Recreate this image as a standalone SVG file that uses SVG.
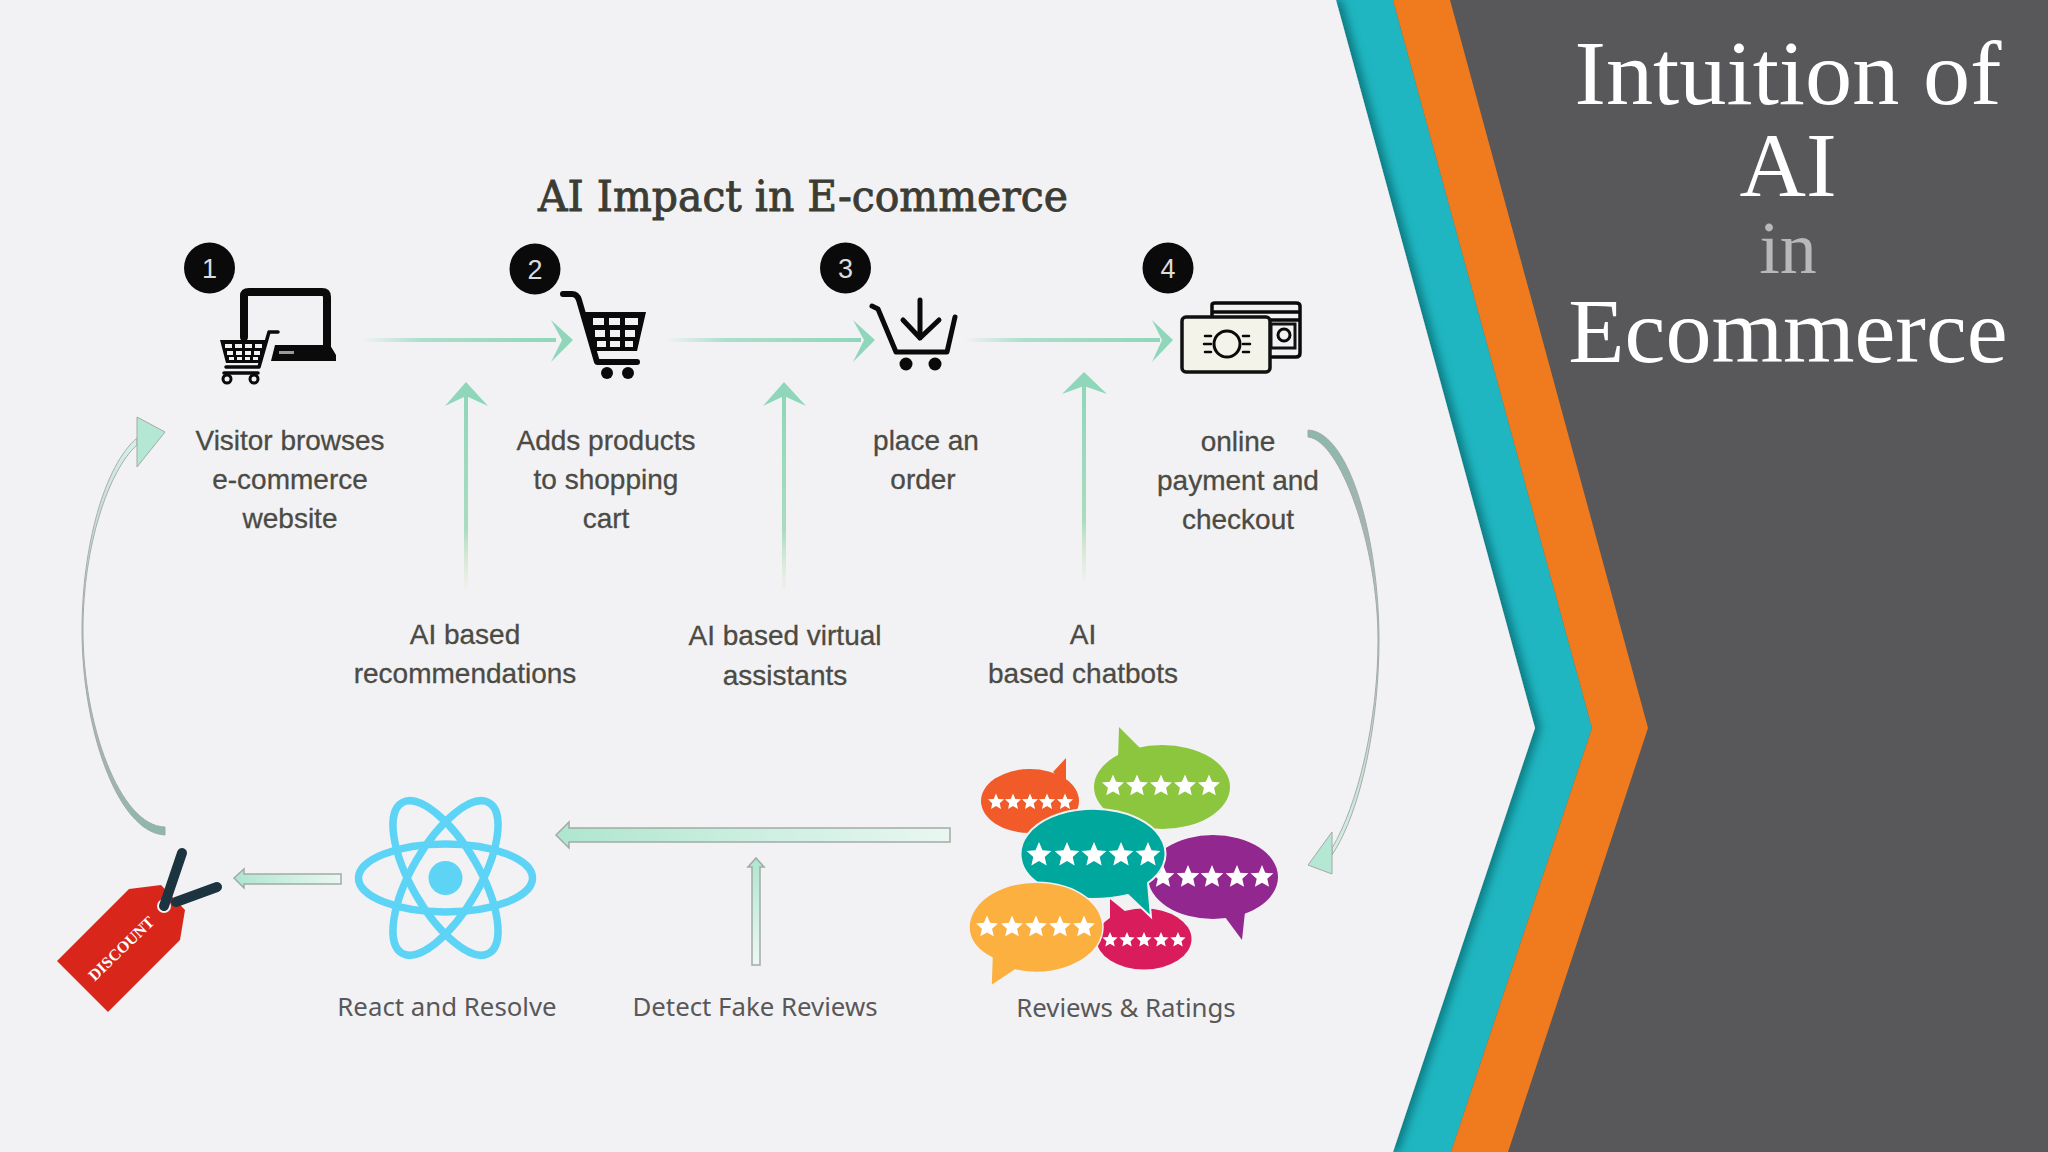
<svg xmlns="http://www.w3.org/2000/svg" width="2048" height="1152" viewBox="0 0 2048 1152">
<style>
.t{font-family:"Liberation Sans",Arial,sans-serif;font-size:28px;fill:#4b4b44;text-anchor:middle;stroke:#4b4b44;stroke-width:.3}
.n{font-family:"Noto Sans","Open Sans",sans-serif;font-size:25.800px;fill:#58585a;text-anchor:middle}
.h{font-family:"Liberation Serif",serif;font-size:92px;fill:#fff;text-anchor:middle}
.d{font-family:"Liberation Sans",Arial,sans-serif;font-size:27px;fill:#dcdcdc;text-anchor:middle}
.g{fill:#8fd6ba}
.o{fill:none;stroke:#0a0a0a;stroke-linecap:round;stroke-linejoin:round}
.star{fill:#fff}
.blk{fill:#0a0a0a}
.cell{fill:#f2f2f4}
.bx{stroke:#a2aaa6;stroke-width:1.5}
</style>
<defs>
<polygon id="star" points="0,-1 .27,-.36 .95,-.31 .44,.15 .59,.81 0,.47 -.59,.81 -.44,.15 -.95,-.31 -.27,-.36"/>
<filter id="shadow" x="-10%" y="-5%" width="120%" height="110%"><feDropShadow dx="6" dy="0" stdDeviation="4" flood-color="#04545c" flood-opacity=".6"/></filter>
<linearGradient id="fadeR" gradientUnits="objectBoundingBox" x1="0" y1="0" x2="1" y2="0"><stop offset="0" stop-color="#8fd6ba" stop-opacity="0"/><stop offset=".3" stop-color="#8fd6ba" stop-opacity=".7"/><stop offset="1" stop-color="#8fd6ba"/></linearGradient>
<linearGradient id="fadeU" gradientUnits="objectBoundingBox" x1="0" y1="0" x2="0" y2="1"><stop offset="0" stop-color="#8fd6ba"/><stop offset=".7" stop-color="#a9dcc0"/><stop offset="1" stop-color="#dfe8c8" stop-opacity=".2"/></linearGradient>
<linearGradient id="mintL" x1="0" y1="0" x2="1" y2="0"><stop offset="0" stop-color="#aee6cf"/><stop offset="1" stop-color="#e9f7f1"/></linearGradient>
<linearGradient id="mintU" x1="0" y1="0" x2="0" y2="1"><stop offset="0" stop-color="#aee6cf"/><stop offset="1" stop-color="#eef8f4"/></linearGradient>
<linearGradient id="curveL" x1="0" y1="1" x2="0" y2="0"><stop offset="0" stop-color="#8cb8ab"/><stop offset=".25" stop-color="#a7b5b0"/><stop offset="1" stop-color="#d6f0e6"/></linearGradient>
<linearGradient id="curveR" x1="0" y1="0" x2="0" y2="1"><stop offset="0" stop-color="#8cb8ab"/><stop offset=".25" stop-color="#a7b5b0"/><stop offset="1" stop-color="#d6f0e6"/></linearGradient>
</defs>

<g id="background">
<rect width="2048" height="1152" fill="#58585a"/>
<polygon points="0,0 1393,0 1592,728 1451,1152 0,1152" fill="#1fb6c1"/>
<polygon points="1393,0 1450,0 1648,728 1508,1152 1451,1152 1592,728" fill="#f07b1f"/>
<polygon points="0,0 1336,0 1535,728 1393,1152 0,1152" fill="#f2f2f4" filter="url(#shadow)"/>
</g>

<g id="slide-title">
<text class="h" x="1788" y="103.500" textLength="427" lengthAdjust="spacingAndGlyphs">Intuition of</text>
<text class="h" x="1788" y="196">AI</text>
<text class="h" x="1788" y="273" style="font-size:74px;fill:#b8b8b8">in</text>
<text class="h" x="1788" y="361.500">Ecommerce</text>
</g>

<text id="diagram-title" x="803" y="211" text-anchor="middle" textLength="530" lengthAdjust="spacingAndGlyphs" style="font-family:'DejaVu Serif','Liberation Serif',serif;font-size:42px;fill:#3c3c34;stroke:#3c3c34;stroke-width:.9">AI Impact in E-commerce</text>

<g id="connectors">
<rect x="362" y="338" width="194" height="4" fill="url(#fadeR)"/>
<polygon class="g" points="573,340 551,320 562,340 551,362"/>
<rect x="666" y="338" width="195" height="4" fill="url(#fadeR)"/>
<polygon class="g" points="875,340 853,320 864,340 853,362"/>
<rect x="964" y="338" width="196" height="4" fill="url(#fadeR)"/>
<polygon class="g" points="1173,340 1152,320 1162,340 1152,362"/>
<rect x="464" y="392" width="4" height="196" fill="url(#fadeU)"/>
<polygon class="g" points="466,382 445,406 466,396 488,406"/>
<rect x="782" y="392" width="4" height="198" fill="url(#fadeU)"/>
<polygon class="g" points="784,382 763,406 784,396 806,406"/>
<rect x="1082" y="382" width="4" height="198" fill="url(#fadeU)"/>
<polygon class="g" points="1084,372 1062,394 1084,386 1107,394"/>
<path stroke="#a0a6a3" stroke-width=".9" fill="url(#curveL)" d="M165,835C118,833 82,730 82,630C82,545 105,465 137,438L137,445C109,470 83,545 83,630C83,725 120,826 165,827Z"/>
<polygon class="bx" style="stroke-width:1" fill="#b5e8d4" points="137,417 165,432 137,467"/>
<path stroke="#a0a6a3" stroke-width=".9" fill="url(#curveR)" d="M1308,430C1350,432 1379,540 1379,640C1379,720 1362,810 1332,855L1332,848C1358,805 1378,720 1378,640C1378,545 1340,440 1308,437Z"/>
<polygon class="bx" style="stroke-width:1" fill="#b5e8d4" points="1332,832 1308,865 1332,874"/>
<polygon class="bx" fill="url(#mintL)" points="556,835 569,822 569,828 950,828 950,842 569,842 569,848"/>
<polygon class="bx" fill="url(#mintL)" points="234,878 244,869 244,874 341,874 341,884 244,884 244,888"/>
<polygon class="bx" fill="url(#mintU)" points="756,858 764,867 760,867 760,965 752,965 752,867 748,867"/>
</g>

<g id="node-1">
<circle class="blk" cx="209.500" cy="268" r="25.500"/><text class="d" x="209.500" y="278">1</text>
<path class="o" stroke-width="8" d="M244,337V296Q244,292 249,292H322Q327,292 327,297V345"/>
<path class="blk" d="M275,345H330L336,355V361H271Z"/><rect x="279" y="351" width="15" height="3" fill="#9a9a9a"/>
<path class="o" stroke-width="3.500" d="M278,332H269L259,367H226M224,373H258"/>
<polygon class="blk" points="220,340 268,340 261,363 226,363"/>
<g class="cell"><rect x="225" y="344" width="7" height="4"/><rect x="235" y="344" width="7" height="4"/><rect x="245" y="344" width="7" height="4"/><rect x="255" y="344" width="7" height="4"/><rect x="227" y="351" width="6" height="4"/><rect x="236" y="351" width="6" height="4"/><rect x="245" y="351" width="6" height="4"/><rect x="254" y="351" width="6" height="4"/><rect x="229" y="357" width="5" height="3"/><rect x="237" y="357" width="5" height="3"/><rect x="245" y="357" width="5" height="3"/><rect x="253" y="357" width="5" height="3"/></g>
<circle class="o" stroke-width="3" cx="227" cy="379" r="4"/><circle class="o" stroke-width="3" cx="254" cy="379" r="4"/>
<text class="t" x="290" y="450" textLength="189" lengthAdjust="spacingAndGlyphs">Visitor browses</text><text class="t" x="290" y="489">e-commerce</text><text class="t" x="290" y="528">website</text>
</g>

<g id="node-2">
<circle class="blk" cx="535" cy="269" r="25.500"/><text class="d" x="535" y="279">2</text>
<path class="o" stroke-width="6" d="M563,294H572Q577,294 579,300L597,362H637"/>
<polygon class="blk" points="585,312 646,312 637,351 594,351"/>
<g class="cell"><rect x="593" y="318" width="11" height="7"/><rect x="609" y="318" width="11" height="7"/><rect x="625" y="318" width="13" height="7"/><rect x="595" y="330" width="10" height="7"/><rect x="610" y="330" width="10" height="7"/><rect x="625" y="330" width="10" height="7"/><rect x="597" y="341" width="9" height="6"/><rect x="610" y="341" width="10" height="6"/><rect x="625" y="341" width="8" height="6"/></g>
<circle class="blk" cx="607" cy="373" r="6"/><circle class="blk" cx="628" cy="373" r="6"/>
<text class="t" x="606" y="450">Adds products</text><text class="t" x="606" y="489">to shopping</text><text class="t" x="606" y="528">cart</text>
</g>

<g id="node-3">
<circle class="blk" cx="845.500" cy="268" r="25.500"/><text class="d" x="845.500" y="278">3</text>
<path class="o" stroke-width="5" d="M872,306L878,309L896,352H947L955,317"/>
<path class="o" stroke-width="5" d="M920,300V338M903,320L920,338L939,320"/>
<circle class="blk" cx="906" cy="364" r="6.500"/><circle class="blk" cx="935" cy="364" r="6.500"/>
<text class="t" x="926" y="450">place an</text><text class="t" x="923" y="489">order</text>
</g>

<g id="node-4">
<circle class="blk" cx="1168" cy="268" r="25.500"/><text class="d" x="1168" y="278">4</text>
<path class="o" stroke-width="3.500" d="M1212,316V305Q1212,303 1215,303H1296Q1300,303 1300,306V353Q1300,357 1296,357H1271M1212,312H1300M1212,320H1300"/>
<rect x="1182" y="317" width="88" height="55" rx="4" fill="#f4f3ea" stroke="#111" stroke-width="3.500"/>
<circle class="o" stroke-width="3" cx="1227" cy="344" r="13"/><path class="o" stroke-width="2.500" d="M1205,336H1211M1204,344H1211M1205,352H1211M1243,336H1249M1243,344H1250M1243,352H1249"/>
<rect x="1271" y="324" width="24" height="24" fill="none" stroke="#111" stroke-width="3"/><circle class="o" stroke-width="3" cx="1284" cy="335" r="6"/>
<text class="t" x="1238" y="451">online</text><text class="t" x="1238" y="490">payment and</text><text class="t" x="1238" y="529">checkout</text>
</g>

<g id="ai-recommendations"><text class="t" x="465" y="644">AI based</text><text class="t" x="465" y="683">recommendations</text></g>
<g id="ai-assistants"><text class="t" x="785" y="645">AI based virtual</text><text class="t" x="785" y="685">assistants</text></g>
<g id="ai-chatbots"><text class="t" x="1083" y="644">AI</text><text class="t" x="1083" y="683">based chatbots</text></g>

<g id="reviews">
<g fill="#f15a29"><ellipse cx="1030" cy="801" rx="49" ry="32"/><polygon points="1053,772 1066,758 1066,785"/></g>
<g class="star"><use href="#star" transform="translate(996,802) scale(8.500)"/><use href="#star" transform="translate(1013,802) scale(8.500)"/><use href="#star" transform="translate(1030,802) scale(8.500)"/><use href="#star" transform="translate(1047,802) scale(8.500)"/><use href="#star" transform="translate(1065,802) scale(8.500)"/></g>
<g fill="#8cc63f"><ellipse cx="1162" cy="787" rx="68" ry="42"/><polygon points="1119,727 1118,760 1140,748"/></g>
<g class="star"><use href="#star" transform="translate(1113,786) scale(11.500)"/><use href="#star" transform="translate(1137,786) scale(11.500)"/><use href="#star" transform="translate(1161,786) scale(11.500)"/><use href="#star" transform="translate(1185,786) scale(11.500)"/><use href="#star" transform="translate(1209,786) scale(11.500)"/></g>
<g fill="#92278f"><ellipse cx="1213" cy="877" rx="65" ry="42"/><polygon points="1225,917 1242,940 1245,912"/></g>
<g class="star"><use href="#star" transform="translate(1163,877) scale(12)"/><use href="#star" transform="translate(1188,877) scale(12)"/><use href="#star" transform="translate(1212,877) scale(12)"/><use href="#star" transform="translate(1237,877) scale(12)"/><use href="#star" transform="translate(1262,877) scale(12)"/></g>
<g fill="#d91c5c"><ellipse cx="1144" cy="939" rx="47.500" ry="30.500"/><polygon points="1110,899 1110,920 1126,912"/></g>
<g class="star"><use href="#star" transform="translate(1110,940) scale(8)"/><use href="#star" transform="translate(1127,940) scale(8)"/><use href="#star" transform="translate(1144,940) scale(8)"/><use href="#star" transform="translate(1161,940) scale(8)"/><use href="#star" transform="translate(1178,940) scale(8)"/></g>
<g fill="#00a79d"><path d="M1020.500,854A72.500,45 0 1 1 1148,883L1151,917L1128,895Q1111,899 1093,899A72.500,45 0 0 1 1020.500,854Z" stroke="#f2f2f4" stroke-width="2"/></g>
<g class="star"><use href="#star" transform="translate(1039,855) scale(13)"/><use href="#star" transform="translate(1067,855) scale(13)"/><use href="#star" transform="translate(1094,855) scale(13)"/><use href="#star" transform="translate(1121,855) scale(13)"/><use href="#star" transform="translate(1148,855) scale(13)"/></g>
<g fill="#fbb040"><path d="M969,927A67,45 0 1 1 1015,970L991,986L992,958Q969,946 969,927Z" stroke="#f2f2f4" stroke-width="1.500"/></g>
<g class="star"><use href="#star" transform="translate(987,927) scale(11.500)"/><use href="#star" transform="translate(1012,927) scale(11.500)"/><use href="#star" transform="translate(1036,927) scale(11.500)"/><use href="#star" transform="translate(1060,927) scale(11.500)"/><use href="#star" transform="translate(1084,927) scale(11.500)"/></g>
<text class="n" x="1126" y="1017">Reviews &amp; Ratings</text>
</g>

<g id="fake-reviews"><text class="n" x="755" y="1016">Detect Fake Reviews</text></g>

<g id="react">
<g fill="none" stroke="#5dd4f6" stroke-width="7.500"><ellipse cx="445.500" cy="878" rx="87" ry="34"/><ellipse cx="445.500" cy="878" rx="87" ry="34" transform="rotate(60 445.500 878)"/><ellipse cx="445.500" cy="878" rx="87" ry="34" transform="rotate(120 445.500 878)"/></g>
<circle cx="445.500" cy="878" r="17" fill="#5dd4f6"/>
<text class="n" x="447" y="1016">React and Resolve</text>
</g>

<g id="discount-tag">
<polygon fill="#d9261a" points="129,889 161,885 185,910 180,940 108,1012 57,961"/>
<circle cx="164" cy="906" r="7" fill="#f2f2f4"/>
<path d="M176,902L217,887" stroke="#1c3340" stroke-width="10" stroke-linecap="round"/>
<path d="M164,906L182,853" stroke="#1c3340" stroke-width="10" stroke-linecap="round"/>
<text x="121" y="954" text-anchor="middle" transform="rotate(-44 121 948)" style="font-family:'Liberation Serif',serif;font-weight:700;font-size:16px;fill:#fff">DISCOUNT</text>
</g>
</svg>
